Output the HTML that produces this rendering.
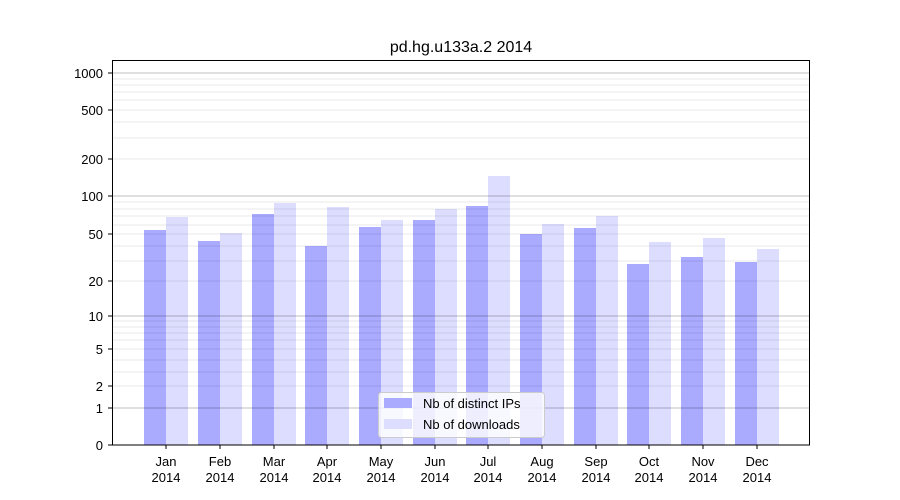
<!DOCTYPE html>
<html><head><meta charset="utf-8"><style>body{margin:0;background:#fff}svg{display:block}</style></head><body>
<svg width="900" height="500" xmlns="http://www.w3.org/2000/svg" font-family="Liberation Sans, DejaVu Sans, sans-serif">
<rect width="900" height="500" fill="#fff"/>
<text x="461" y="52" font-size="16" text-anchor="middle" fill="#000">pd.hg.u133a.2 2014</text>
<g fill="#aaaaff">
<rect x="144" y="230" width="22" height="215"/><rect x="198" y="241" width="22" height="204"/>
<rect x="252" y="214" width="22" height="231"/><rect x="305" y="246" width="22" height="199"/>
<rect x="359" y="227" width="22" height="218"/><rect x="413" y="220" width="22" height="225"/>
<rect x="466" y="206" width="22" height="239"/><rect x="520" y="234" width="22" height="211"/>
<rect x="574" y="228" width="22" height="217"/><rect x="627" y="264" width="22" height="181"/>
<rect x="681" y="257" width="22" height="188"/><rect x="735" y="262" width="22" height="183"/>
</g>
<g fill="#ddddff">
<rect x="166" y="217" width="22" height="228"/><rect x="220" y="233" width="22" height="212"/>
<rect x="274" y="203" width="22" height="242"/><rect x="327" y="207" width="22" height="238"/>
<rect x="381" y="220" width="22" height="225"/><rect x="435" y="209" width="22" height="236"/>
<rect x="488" y="176" width="22" height="269"/><rect x="542" y="224" width="22" height="221"/>
<rect x="596" y="216" width="22" height="229"/><rect x="649" y="242" width="22" height="203"/>
<rect x="703" y="238" width="22" height="207"/><rect x="757" y="249" width="22" height="196"/>
</g>
<g stroke="#000" stroke-opacity="0.09" stroke-width="1">
<line x1="112" x2="810" y1="386" y2="386"/><line x1="112" x2="810" y1="349" y2="349"/>
<line x1="112" x2="810" y1="372" y2="372"/><line x1="112" x2="810" y1="360" y2="360"/>
<line x1="112" x2="810" y1="340" y2="340"/><line x1="112" x2="810" y1="333" y2="333"/>
<line x1="112" x2="810" y1="327" y2="327"/><line x1="112" x2="810" y1="321" y2="321"/>
<line x1="112" x2="810" y1="281" y2="281"/><line x1="112" x2="810" y1="261" y2="261"/>
<line x1="112" x2="810" y1="246" y2="246"/><line x1="112" x2="810" y1="234" y2="234"/>
<line x1="112" x2="810" y1="225" y2="225"/><line x1="112" x2="810" y1="216" y2="216"/>
<line x1="112" x2="810" y1="209" y2="209"/><line x1="112" x2="810" y1="202" y2="202"/>
<line x1="112" x2="810" y1="159" y2="159"/><line x1="112" x2="810" y1="138" y2="138"/>
<line x1="112" x2="810" y1="122" y2="122"/><line x1="112" x2="810" y1="110" y2="110"/>
<line x1="112" x2="810" y1="100" y2="100"/><line x1="112" x2="810" y1="92" y2="92"/>
<line x1="112" x2="810" y1="85" y2="85"/><line x1="112" x2="810" y1="79" y2="79"/>
</g>
<g stroke="#000" stroke-opacity="0.25" stroke-width="1">
<line x1="112" x2="810" y1="408" y2="408"/><line x1="112" x2="810" y1="316" y2="316"/>
<line x1="112" x2="810" y1="196" y2="196"/><line x1="112" x2="810" y1="73" y2="73"/>
</g>
<rect x="112.5" y="60.5" width="697" height="384.5" fill="none" stroke="#000"/>
<g font-size="13" text-anchor="end" fill="#000">
<text x="103" y="450">0</text><text x="103" y="413">1</text><text x="103" y="391">2</text>
<text x="103" y="354">5</text><text x="103" y="321">10</text><text x="103" y="286">20</text>
<text x="103" y="239">50</text><text x="103" y="201">100</text><text x="103" y="164">200</text>
<text x="103" y="115">500</text><text x="103" y="78">1000</text>
</g>
<g stroke="#000"><line x1="108" x2="112" y1="445" y2="445"/><line x1="108" x2="112" y1="408" y2="408"/><line x1="108" x2="112" y1="386" y2="386"/><line x1="108" x2="112" y1="349" y2="349"/><line x1="108" x2="112" y1="316" y2="316"/><line x1="108" x2="112" y1="281" y2="281"/><line x1="108" x2="112" y1="234" y2="234"/><line x1="108" x2="112" y1="196" y2="196"/><line x1="108" x2="112" y1="159" y2="159"/><line x1="108" x2="112" y1="110" y2="110"/><line x1="108" x2="112" y1="73" y2="73"/></g>
<g font-size="13" text-anchor="middle" fill="#000">
<text x="166" y="466">Jan</text><text x="166" y="482">2014</text>
<text x="220" y="466">Feb</text><text x="220" y="482">2014</text>
<text x="274" y="466">Mar</text><text x="274" y="482">2014</text>
<text x="327" y="466">Apr</text><text x="327" y="482">2014</text>
<text x="381" y="466">May</text><text x="381" y="482">2014</text>
<text x="435" y="466">Jun</text><text x="435" y="482">2014</text>
<text x="488" y="466">Jul</text><text x="488" y="482">2014</text>
<text x="542" y="466">Aug</text><text x="542" y="482">2014</text>
<text x="596" y="466">Sep</text><text x="596" y="482">2014</text>
<text x="649" y="466">Oct</text><text x="649" y="482">2014</text>
<text x="703" y="466">Nov</text><text x="703" y="482">2014</text>
<text x="757" y="466">Dec</text><text x="757" y="482">2014</text>
</g>
<g stroke="#000"><line x1="166" x2="166" y1="445" y2="449"/><line x1="220" x2="220" y1="445" y2="449"/><line x1="274" x2="274" y1="445" y2="449"/><line x1="327" x2="327" y1="445" y2="449"/><line x1="381" x2="381" y1="445" y2="449"/><line x1="435" x2="435" y1="445" y2="449"/><line x1="488" x2="488" y1="445" y2="449"/><line x1="542" x2="542" y1="445" y2="449"/><line x1="596" x2="596" y1="445" y2="449"/><line x1="649" x2="649" y1="445" y2="449"/><line x1="703" x2="703" y1="445" y2="449"/><line x1="757" x2="757" y1="445" y2="449"/></g>
<rect x="378.5" y="392.5" width="166" height="45" rx="3" fill="#fff" fill-opacity="0.8" stroke="#cccccc"/>
<rect x="384" y="398" width="28" height="10" fill="#aaaaff"/>
<rect x="384" y="419" width="28" height="10" fill="#ddddff"/>
<text x="423" y="408" font-size="13" fill="#000">Nb of distinct IPs</text>
<text x="423" y="429" font-size="13" fill="#000">Nb of downloads</text>
</svg>
</body></html>
